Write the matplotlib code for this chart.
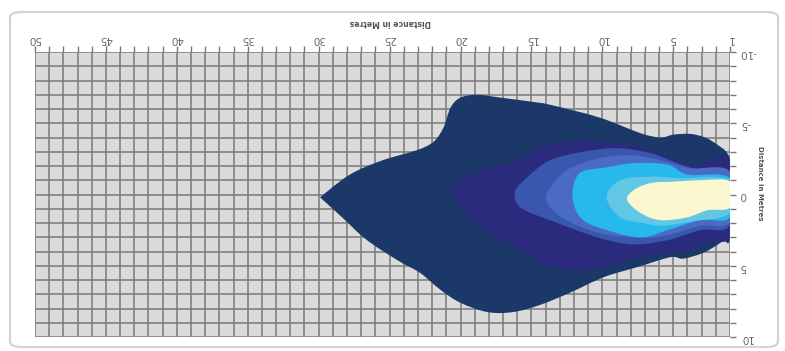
import numpy as np
import matplotlib
matplotlib.use('Agg')
import matplotlib.pyplot as plt
from matplotlib.patches import FancyBboxPatch, PathPatch
from matplotlib.path import Path

plt.rcParams['axes.unicode_minus'] = False

# chart is shown rotated by 180 degrees (x runs 50 -> 1, y runs -10 -> 10 top to bottom)

x_ticks = [1, 5, 10, 15, 20, 25, 30, 35, 40, 45, 50]
y_ticks = [-10, -5, 0, 5, 10]

# contour bands, outermost first, outlines (distance, offset)
band1_x = [29.9, 27.8, 25.5, 23.1, 21.9, 21.2, 20.7, 20.0, 18.8, 17.2, 14.9, 13.7, 10.2, 7.3, 5.9, 5.0,
           3.8, 2.75, 1.9, 1.2, 1.0, 1.0, 1.7, 2.9, 4.3, 5.2, 7.55, 9.9, 12.3, 14.4, 16.3, 18.1,
           20.0, 21.4, 22.85, 24.3, 26.6, 28.3]
band1_y = [0.2, -1.4, -2.4, -3.1, -3.7, -4.7, -6.1, -6.8, -7.0, -6.8, -6.5, -6.3, -5.4, -4.3, -4.0, -4.2,
           -4.25, -4.0, -3.5, -2.9, -1.9, 2.7, 3.4, 4.1, 4.5, 4.4, 5.1, 5.8, 6.9, 7.75, 8.25, 8.25,
           7.6, 6.7, 5.5, 4.7, 3.2, 1.65]

band2_x = [20.5, 20.0, 18.4, 16.0, 14.4, 12.5, 11.35, 7.8, 5.4, 4.0, 3.1, 2.05, 1.0,
           1.0, 1.7, 4.0, 6.4, 8.75, 11.1, 13.5, 15.8, 18.4, 20.0]
band2_y = [-0.3, -1.0, -1.7, -2.4, -3.3, -3.7, -3.8, -3.4, -2.7, -2.1, -2.2, -2.55, -2.4,
           3.0, 3.2, 3.9, 4.25, 4.8, 5.3, 5.1, 3.9, 2.3, 0.9]

band3_x = [16.15, 15.3, 13.7, 11.35, 8.95, 6.6, 4.7, 3.1, 1.0, 1.0, 3.1, 5.4, 7.8, 10.2, 13.7, 15.8]
band3_y = [-0.2, -1.2, -2.4, -3.0, -3.25, -2.9, -2.2, -1.7, -1.4, 2.15, 2.5, 3.2, 3.5, 3.05, 1.8, 0.9]

band4_x = [13.9, 12.5, 10.2, 7.8, 5.9, 3.8, 1.0, 1.0, 3.1, 5.4, 7.3, 10.2, 12.5, 13.7]
band4_y = [-0.1, -1.7, -2.55, -2.75, -2.4, -1.85, -1.6, 1.9, 2.2, 2.85, 3.05, 2.7, 1.8, 0.9]

band5_x = [12.1, 11.6, 9.7, 7.8, 5.4, 4.0, 1.0, 1.0, 3.1, 5.4, 7.1, 9.0, 11.35]
band5_y = [0.2, -1.5, -1.9, -2.2, -2.1, -1.4, -1.15, 1.6, 1.8, 2.5, 3.0, 2.7, 1.8]

band6_x = [9.7, 8.75, 6.6, 4.5, 1.0, 1.0, 3.8, 5.9, 7.1, 8.75]
band6_y = [0.2, -1.0, -1.25, -1.15, -1.0, 1.3, 1.9, 2.2, 2.0, 1.6]

band7_x = [8.25, 7.8, 6.6, 5.0, 3.1, 1.0, 1.0, 2.6, 4.0, 5.9, 7.3]
band7_y = [0.4, -0.3, -0.8, -0.9, -1.0, -0.9, 0.9, 1.1, 1.6, 1.8, 1.3]

bands = [(band1_x, band1_y), (band2_x, band2_y), (band3_x, band3_y), (band4_x, band4_y),
         (band5_x, band5_y), (band6_x, band6_y), (band7_x, band7_y)]
band_colors = ['#1b3868', '#2a2b7c', '#3a57ae', '#4a6bc4', '#27b8ee', '#62c7e4', '#fbf8cf']
sharp_tips = [[0], [], [], [], [], [], []]


def smooth_outline(xs, ys, corners=()):
    # closed bezier path through the outline points, corners keep a sharp point
    p = np.column_stack([xs, ys])
    n = len(p)
    verts = [p[0]]
    codes = [Path.MOVETO]
    for i in range(n):
        j = (i + 1) % n
        p0, p1, p2, p3 = p[i - 1], p[i], p[j], p[(i + 2) % n]
        t1 = np.zeros(2) if i in corners else (p2 - p0) / 6
        t2 = np.zeros(2) if j in corners else (p3 - p1) / 6
        verts += [p1 + t1, p2 - t2, p2]
        codes += [Path.CURVE4] * 3
    return Path(verts, codes)


fig = plt.figure(figsize=(7.85, 3.51), dpi=100)
fig.patch.set_facecolor('white')
frame = FancyBboxPatch((10 / 785, 1 - 347 / 351), 768 / 785, 335 / 351,
                       boxstyle='round,pad=0,rounding_size=0.015', transform=fig.transFigure,
                       facecolor='none', edgecolor='#d4d4d4', linewidth=1.6, zorder=-1)
fig.patches.append(frame)

ax = fig.add_axes([35 / 785, 1 - 337 / 351, 695 / 785, 285 / 351])
ax.set_facecolor('#dbdbdb')
ax.set_xlim(50, 1)
ax.set_ylim(10, -10)

for (bx, by), c, tips in zip(bands, band_colors, sharp_tips):
    ax.add_patch(PathPatch(smooth_outline(bx, by, tips), facecolor=c, edgecolor='none', zorder=3))

ax.set_xticks(x_ticks)
ax.set_xticks(np.arange(1, 51), minor=True)
ax.set_yticks(y_ticks)
ax.set_yticks(np.arange(-10, 11), minor=True)
ax.grid(which='both', color='#7a7a7a', linewidth=1.1, zorder=1)
ax.set_axisbelow(True)
ax.xaxis.tick_top()
ax.yaxis.tick_right()
ax.tick_params(which='both', direction='out', length=4, color='#777777', width=1)
ax.tick_params(axis='x', labelsize=7.5, labelcolor='#666666', pad=2, labelrotation=180)
ax.tick_params(axis='y', labelsize=7.5, labelcolor='#666666', pad=3, labelrotation=180)
for s in ax.spines.values():
    s.set_visible(False)

fig.text(390 / 785, 1 - 23 / 351, 'Distance in Metres', rotation=180, ha='center', va='center',
         fontsize=5.5, color='#555555', fontweight='bold')
fig.text(760 / 785, 1 - 183 / 351, 'Distance in Metres', rotation=270, ha='center', va='center',
         fontsize=5, color='#555555', fontweight='bold')

fig.savefig('out.png', dpi=100)
